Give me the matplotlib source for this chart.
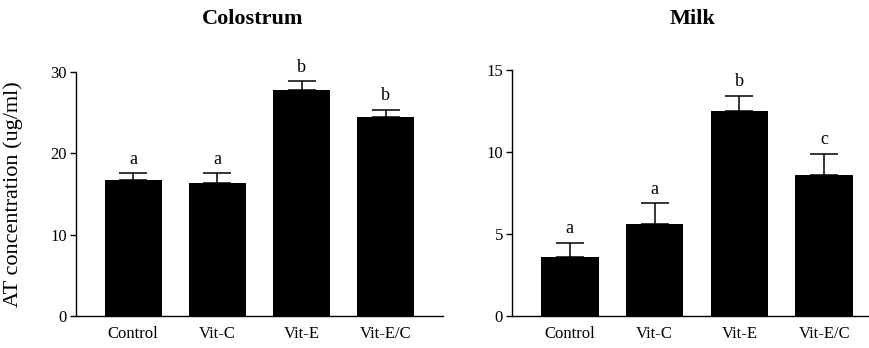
import matplotlib
matplotlib.use("Agg")
import matplotlib.pyplot as plt
import numpy as np

plt.rcParams["font.family"] = ["Liberation Serif", "DejaVu Serif"]

# === data ===
groups = ["Control", "Vit-C", "Vit-E", "Vit-E/C"]

colostrum_mean = [16.7, 16.35, 27.8, 24.45]
colostrum_err = [0.85, 1.2, 1.07, 0.93]
colostrum_letters = ["a", "a", "b", "b"]

milk_mean = [3.6, 5.6, 12.52, 8.63]
milk_err = [0.88, 1.28, 0.93, 1.26]
milk_letters = ["a", "a", "b", "c"]

W, H = 870, 348
fig = plt.figure(figsize=(W / 100, H / 100), dpi=100)


def bar_panel(rect, means, errs, letters, ymax, yticks, title, title_x):
    ax = fig.add_axes(rect)
    x = np.arange(len(groups))
    ax.bar(x, means, width=0.68, color="black", zorder=2)
    ax.errorbar(x, means, yerr=[np.zeros(len(errs)), errs], fmt="none",
                ecolor="black", elinewidth=1.1, capsize=10, capthick=1.1, zorder=1)
    for xi, m, e, lab in zip(x, means, errs, letters):
        ax.annotate(lab, (xi, m + e), xytext=(0, 4), textcoords="offset points",
                    ha="center", va="bottom", fontsize=13)
    ax.set_xlim(-0.68, 3.68)
    ax.set_ylim(0, ymax)
    ax.set_yticks(yticks)
    ax.set_xticks(x)
    ax.set_xticklabels(groups)
    ax.tick_params(axis="x", length=0, pad=7, labelsize=12)
    ax.tick_params(axis="y", length=4.5, width=1.0, pad=2, labelsize=12)
    for s in ["top", "right"]:
        ax.spines[s].set_visible(False)
    for s in ["left", "bottom"]:
        ax.spines[s].set_linewidth(1.0)
    fig.text(title_x, 1 - 24 / H, title, ha="center", va="baseline",
             fontsize=16, fontweight="bold")
    return ax


ax1 = bar_panel([76 / W, 1 - 316 / H, 367 / W, 244 / H],
                colostrum_mean, colostrum_err, colostrum_letters,
                30, [0, 10, 20, 30], "Colostrum", 253 / W)
ax1.set_ylabel("AT concentration (ug/ml)", fontsize=16)
ax1.yaxis.set_label_coords(-0.145, 0.5)

ax2 = bar_panel([512 / W, 1 - 316 / H, 370 / W, 245.7 / H],
                milk_mean, milk_err, milk_letters,
                15, [0, 5, 10, 15], "Milk", 693 / W)

fig.savefig("out.png", dpi=100)
